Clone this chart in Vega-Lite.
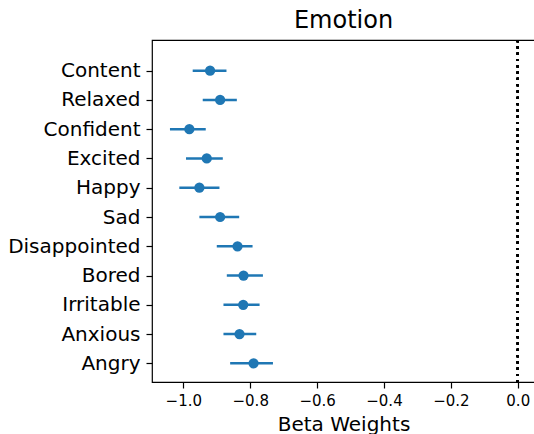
{
  "$schema": "https://vega.github.io/schema/vega-lite/v6.json",
  "autosize": "none",
  "padding": {"left": 152, "top": 40, "right": 0, "bottom": 52},
  "width": 383,
  "height": 342,
  "background": "white",
  "config": {
    "font": "DejaVu Sans",
    "view": {"stroke": "black", "strokeWidth": 1.2},
    "axis": {
      "grid": false,
      "domain": false,
      "tickColor": "black",
      "tickWidth": 1.2,
      "tickSize": 6,
      "labelColor": "black",
      "titleColor": "black",
      "labelFont": "DejaVu Sans",
      "titleFont": "DejaVu Sans",
      "titleFontWeight": "normal"
    }
  },
  "title": {
    "text": "Emotion",
    "font": "DejaVu Sans",
    "fontSize": 24,
    "fontWeight": "normal",
    "color": "black",
    "anchor": "middle",
    "frame": "group",
    "offset": 6
  },
  "data": {
    "values": [
      {"emotion": "Content", "beta": -0.920, "lo": -0.972, "hi": -0.871},
      {"emotion": "Relaxed", "beta": -0.890, "lo": -0.942, "hi": -0.840},
      {"emotion": "Confident", "beta": -0.982, "lo": -1.040, "hi": -0.933},
      {"emotion": "Excited", "beta": -0.930, "lo": -0.992, "hi": -0.882},
      {"emotion": "Happy", "beta": -0.952, "lo": -1.012, "hi": -0.892},
      {"emotion": "Sad", "beta": -0.890, "lo": -0.952, "hi": -0.833},
      {"emotion": "Disappointed", "beta": -0.838, "lo": -0.900, "hi": -0.793},
      {"emotion": "Bored", "beta": -0.820, "lo": -0.870, "hi": -0.762},
      {"emotion": "Irritable", "beta": -0.821, "lo": -0.880, "hi": -0.772},
      {"emotion": "Anxious", "beta": -0.832, "lo": -0.880, "hi": -0.782},
      {"emotion": "Angry", "beta": -0.790, "lo": -0.860, "hi": -0.732}
    ]
  },
  "encoding": {
    "y": {
      "field": "emotion",
      "type": "nominal",
      "sort": null,
      "scale": {"type": "point", "range": [30.7, 323.3], "padding": 0},
      "axis": {"title": null, "labelFontSize": 20, "labelPadding": 6}
    }
  },
  "layer": [
    {
      "mark": {"type": "rule", "color": "#1f77b4", "strokeWidth": 2.4},
      "encoding": {
        "x": {
          "field": "lo",
          "type": "quantitative",
          "scale": {"domain": [-1.0937, 0.0516], "nice": false, "zero": false},
          "axis": {
            "title": "Beta Weights",
            "titleFontSize": 20,
            "labelFontSize": 15,
            "values": [-1.0, -0.8, -0.6, -0.4, -0.2, 0.0],
            "format": ".1f",
            "labelPadding": 5,
            "titlePadding": 6
          }
        },
        "x2": {"field": "hi"}
      }
    },
    {
      "mark": {"type": "point", "filled": true, "opacity": 1, "color": "#1f77b4", "size": 105},
      "encoding": {
        "x": {"field": "beta", "type": "quantitative"}
      }
    },
    {
      "mark": {"type": "rule", "color": "black", "strokeWidth": 2.2, "strokeDash": [2.2, 4.1]},
      "encoding": {
        "x": {"datum": 0},
        "y": null
      }
    }
  ]
}
